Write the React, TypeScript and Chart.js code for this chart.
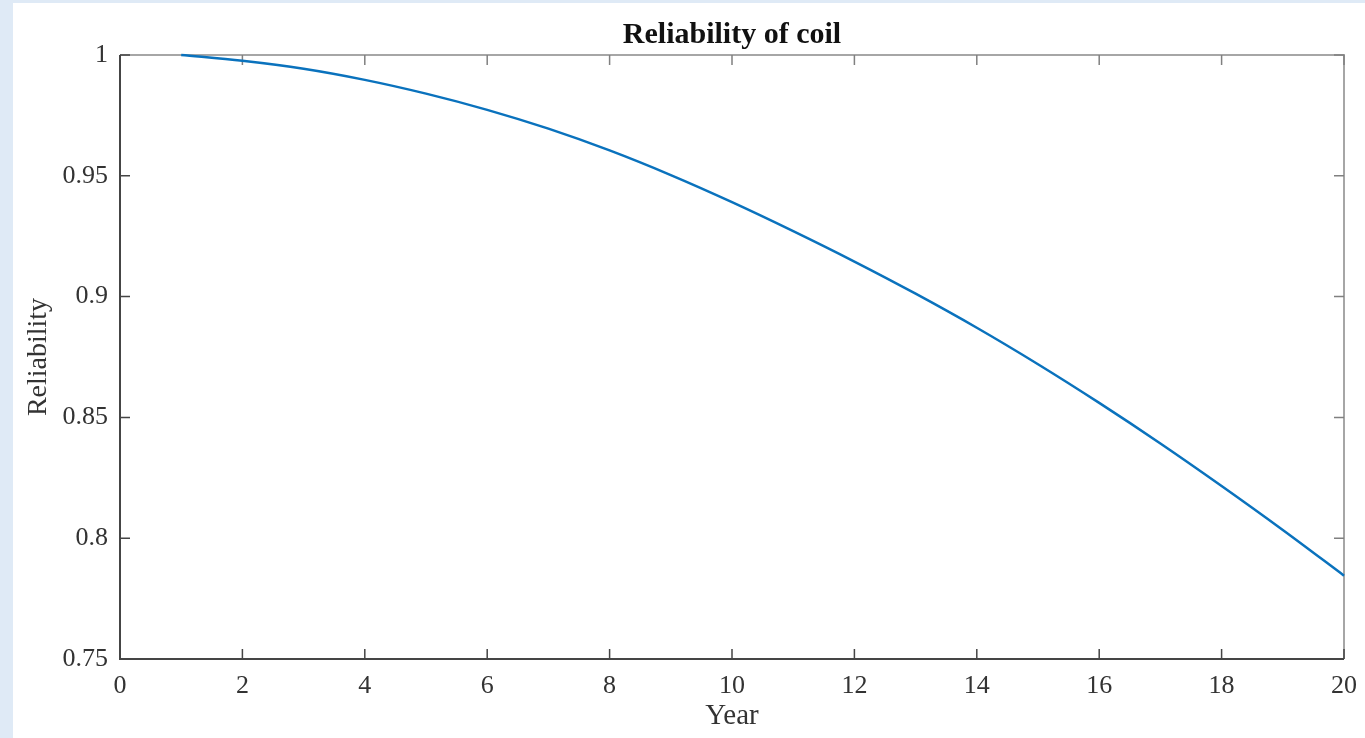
import React, { useEffect, useRef } from "react";
import { Chart, registerables } from "chart.js";

Chart.register(...registerables);

const years = [1, 2, 3, 4, 5, 6, 7, 8, 9, 10, 11, 12, 13, 14, 15, 16, 17, 18, 19, 20];
const reliability = [
  1.0, 0.9976, 0.9943, 0.9897, 0.984, 0.9773, 0.9695, 0.9605, 0.9503, 0.9391,
  0.9271, 0.9145, 0.9012, 0.8871, 0.872, 0.856, 0.8392, 0.8216, 0.8034, 0.7845,
];
const xTickValues = [0, 2, 4, 6, 8, 10, 12, 14, 16, 18, 20];
const yTickValues = [0.75, 0.8, 0.85, 0.9, 0.95, 1];

const titleText = "Reliability of coil";
const xTitle = "Year";
const yTitle = "Reliability";

const FONT = "'Liberation Serif', 'Times New Roman', Times, serif";

const boxPlugin = {
  id: "matlabBox",
  beforeDatasetsDraw(chart: any) {
    const { ctx, chartArea } = chart;
    const { left, right, top, bottom } = chartArea;
    const xs = chart.scales.x;
    const ys = chart.scales.y;
    const tl = 10;
    ctx.save();
    ctx.strokeStyle = "#a6a6a6";
    ctx.lineWidth = 2;
    ctx.beginPath();
    ctx.moveTo(left, top);
    ctx.lineTo(right, top);
    ctx.lineTo(right, bottom);
    ctx.stroke();
    ctx.beginPath();
    for (const v of xTickValues) {
      const px = xs.getPixelForValue(v);
      ctx.moveTo(px, top);
      ctx.lineTo(px, top + tl);
    }
    for (const v of yTickValues) {
      const py = ys.getPixelForValue(v);
      ctx.moveTo(right, py);
      ctx.lineTo(right - tl, py);
    }
    ctx.strokeStyle = "#808080";
    ctx.lineWidth = 1.5;
    ctx.stroke();
    ctx.strokeStyle = "#454545";
    ctx.lineWidth = 2;
    ctx.beginPath();
    ctx.moveTo(left, top);
    ctx.lineTo(left, bottom);
    ctx.lineTo(right, bottom);
    ctx.stroke();
    ctx.beginPath();
    for (const v of xTickValues) {
      const px = xs.getPixelForValue(v);
      ctx.moveTo(px, bottom);
      ctx.lineTo(px, bottom - tl);
    }
    for (const v of yTickValues) {
      const py = ys.getPixelForValue(v);
      ctx.moveTo(left, py);
      ctx.lineTo(left + tl, py);
    }
    ctx.lineWidth = 1.5;
    ctx.stroke();
    ctx.restore();
  },
};

export default function App() {
  const ref = useRef<HTMLCanvasElement | null>(null);
  useEffect(() => {
    document.body.style.margin = "0";
    if (!ref.current) return;
    const chart = new Chart(ref.current, {
      type: "line",
      data: {
        datasets: [
          {
            data: years.map((y, i) => ({ x: y, y: reliability[i] })),
            borderColor: "#0a72bd",
            borderWidth: 2.5,
            pointRadius: 0,
            cubicInterpolationMode: "monotone",
            fill: false,
            clip: false as any,
          },
        ],
      },
      options: {
        animation: false,
        responsive: true,
        maintainAspectRatio: false,
        layout: { padding: { left: 0, right: 21, top: 0, bottom: 0 } },
        plugins: {
          legend: { display: false },
          tooltip: { enabled: false },
          title: {
            display: true,
            text: titleText,
            fullSize: false,
            color: "#111",
            font: { family: FONT, size: 30, weight: "bold" },
            padding: { top: 14, bottom: 2 },
          },
        },
        scales: {
          x: {
            type: "linear",
            min: 0,
            max: 20,
            afterBuildTicks: (s: any) => {
              s.ticks = xTickValues.map((v) => ({ value: v }));
            },
            afterFit: (s: any) => {
              s.height = 79;
              s.paddingLeft = 0;
              s.paddingRight = 0;
            },
            grid: { display: false, drawTicks: false },
            border: { display: false },
            ticks: {
              color: "#333",
              padding: 12,
              maxRotation: 0,
              autoSkip: false,
              font: { family: FONT, size: 26 },
              callback: (v: any) => String(v),
            },
            title: {
              display: true,
              text: xTitle,
              color: "#333",
              font: { family: FONT, size: 29 },
              padding: { top: 0, bottom: 4 },
            },
          },
          y: {
            type: "linear",
            min: 0.75,
            max: 1,
            afterBuildTicks: (s: any) => {
              s.ticks = yTickValues.map((v) => ({ value: v }));
            },
            afterFit: (s: any) => {
              s.width = 107;
              s.paddingTop = 0;
              s.paddingBottom = 0;
            },
            grid: { display: false, drawTicks: false },
            border: { display: false },
            ticks: {
              color: "#333",
              padding: 12,
              autoSkip: false,
              font: { family: FONT, size: 26 },
              callback: (v: any) => String(Number(Number(v).toFixed(2))),
            },
            title: {
              display: true,
              text: yTitle,
              color: "#333",
              font: { family: FONT, size: 28 },
              padding: { top: 9, bottom: 0 },
            },
          },
        },
      } as any,
      plugins: [boxPlugin],
    });
    return () => chart.destroy();
  }, []);

  return (
    <div
      style={{
        position: "fixed",
        left: 0,
        top: 0,
        width: 1365,
        height: 738,
        background: "#dfeaf6",
      }}
    >
      <div
        style={{
          position: "absolute",
          left: 13,
          top: 3,
          width: 1352,
          height: 735,
          background: "#ffffff",
        }}
      >
        <canvas ref={ref} />
      </div>
    </div>
  );
}
